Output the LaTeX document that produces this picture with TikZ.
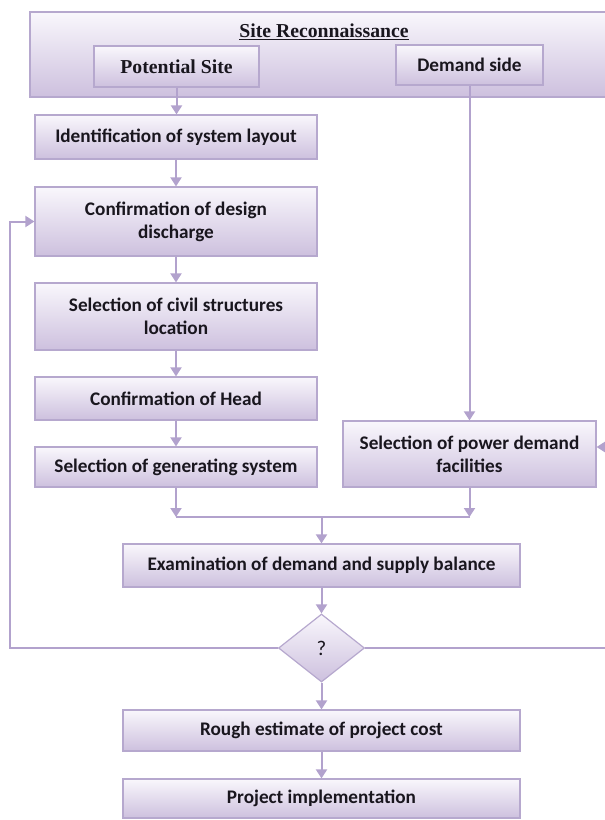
\documentclass[tikz,border=0pt]{standalone}
\usepackage{fontspec}
\setmainfont{Carlito}
\newfontfamily\titlefont{Liberation Serif}
\usetikzlibrary{arrows.meta,shapes.geometric}
\definecolor{bord}{RGB}{182,168,206}
\definecolor{ltop}{RGB}{249,247,252}
\definecolor{lbot}{RGB}{205,192,222}
\definecolor{arrc}{RGB}{178,162,205}
\definecolor{txt}{RGB}{25,22,30}
\begin{document}
\begin{tikzpicture}[x=1bp,y=-1bp,
  box/.style={draw=bord, line width=1.2bp, top color=ltop, bottom color=lbot,
    rectangle, inner sep=2bp, align=center, text=txt,
    font=\fontsize{19.3}{23}\selectfont\bfseries},
  sbox/.style={box, font=\titlefont\fontsize{19.8}{23}\selectfont\bfseries},
  con/.style={draw=arrc, line width=2bp},
  arw/.style={con, -{Triangle[length=9bp,width=11bp]}}]
\useasboundingbox (0,0) rectangle (605,820);
% outer site reconnaissance box
\node[box, minimum width=588bp, minimum height=85bp] (outer) at (324,54.5) {};
\node[text=txt, font=\titlefont\fontsize{19.8}{23}\selectfont\bfseries] (title) at (324,32) {\underline{Site Reconnaissance}};
\node[sbox, minimum width=165bp, minimum height=41bp] (pot) at (176.5,66.5) {Potential Site};
\node[box, minimum width=147bp, minimum height=40bp] (dem) at (469.5,65) {Demand side};
% left column
\node[box, minimum width=282bp, minimum height=44bp] (ident) at (176,137) {Identification of system layout};
\node[box, minimum width=282bp, minimum height=69bp] (conf) at (176,221.5) {Confirmation of design\\discharge};
\node[box, minimum width=282bp, minimum height=67bp] (civ) at (176,316.5) {Selection of civil structures\\location};
\node[box, minimum width=282bp, minimum height=43bp] (head) at (176,398.5) {Confirmation of Head};
\node[box, minimum width=282bp, minimum height=40bp] (gen) at (176,467) {Selection of generating system};
% right column
\node[box, minimum width=253bp, minimum height=66bp] (pow) at (469.5,454) {Selection of power demand\\facilities};
% lower part
\node[box, minimum width=397bp, minimum height=43bp] (exam) at (321.5,565.5) {Examination of demand and supply balance};
\node[box, diamond, aspect=1.26, minimum width=86bp, minimum height=68bp, inner sep=0pt,
  font=\fontsize{21}{22}\selectfont] (dia) at (321.5,648) {?};
\node[box, minimum width=397bp, minimum height=41bp] (rough) at (321.5,730.5) {Rough estimate of project cost};
\node[box, minimum width=397bp, minimum height=39bp] (impl) at (321.5,798.5) {Project implementation};
% junction coordinates
\coordinate (jl) at (176,517);
\coordinate (jr) at (469.5,517);
\coordinate (jm) at (321.5,517);
\coordinate (lx) at (10,648);
\coordinate (rx) at (615,648);
\coordinate (ry) at (615,447);
% connectors
\draw[arw] (pot.south) -- (pot.south |- ident.north);
\draw[arw] (ident) -- (conf);
\draw[arw] (conf) -- (civ);
\draw[arw] (civ) -- (head);
\draw[arw] (head) -- (gen);
\draw[arw] (dem.south) -- (dem.south |- pow.north);
\draw[arw] (gen.south) -- (jl);
\draw[arw] (pow.south) -- (jr);
\draw[con] (jl) -- (jr);
\draw[arw] (jm) -- (exam.north);
\draw[arw] (exam) -- (dia);
\draw[arw] (dia) -- (rough);
\draw[arw] (rough) -- (impl);
\draw[arw] (dia.west) -- (lx) |- (conf.west);
\draw[arw] (dia.east) -- (rx) -- (ry) -- (ry -| pow.east);
\end{tikzpicture}
\end{document}
